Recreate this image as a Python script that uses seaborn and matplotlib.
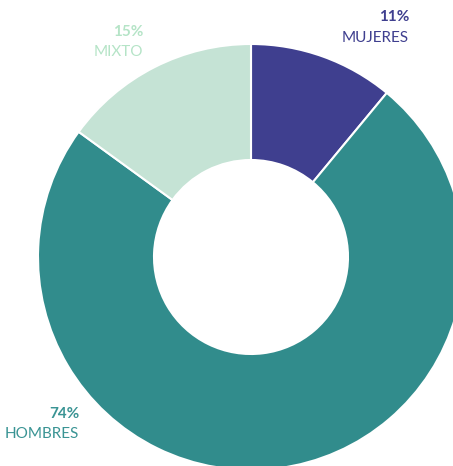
import matplotlib
matplotlib.use("Agg")
import matplotlib.pyplot as plt
import seaborn as sns

# datos
categories = ['MUJERES', 'HOMBRES', 'MIXTO']
shares = [11, 74, 15]
colors = ['#3f3f8f', '#318c8c', '#c5e3d5']
label_colors = ['#3f3f8f', '#3a9494', '#b5e4c7']

sns.set_style('white')
plt.rcParams['font.family'] = ['Lato', 'DejaVu Sans']

W, H = 453, 466
fig = plt.figure(figsize=(W / 100, H / 100), dpi=100)
ax = fig.add_axes([0, 0, 1, 1])

# pie en coordenadas de pixel (y hacia arriba)
ax.pie(shares, colors=colors, startangle=90, counterclock=False,
       radius=213, center=(251, H - 257),
       wedgeprops=dict(width=116, edgecolor='white', linewidth=1.5),
       frame=True)
ax.set_xlim(0, W)
ax.set_ylim(0, H)
ax.set_aspect('equal')
ax.axis('off')

# etiquetas
label_pos = {'MUJERES': (409, 17, 38), 'MIXTO': (143, 32, 52), 'HOMBRES': (79, 414, 434)}
for cat, val, col in zip(categories, shares, label_colors):
    x, y1, y2 = label_pos[cat]
    ax.text(x, H - y1, f'{val}%', color=col, fontsize=11, fontweight='bold',
            ha='right', va='center')
    ax.text(x, H - y2, cat, color=col, fontsize=11, ha='right', va='center')

plt.savefig('out.png', dpi=100)
plt.close()
